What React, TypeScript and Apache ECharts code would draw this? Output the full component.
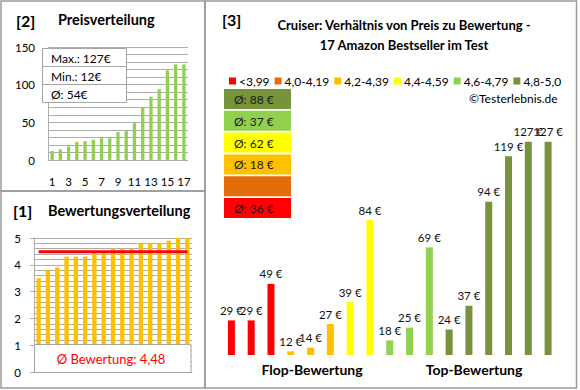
import React, { useEffect, useRef } from "react";
import * as echarts from "echarts";

// ---------- data ----------
const prices = [29, 29, 49, 12, 14, 27, 39, 84, 18, 25, 69, 24, 37, 94, 119, 127, 127];
const ratings = [3.5, 3.8, 3.9, 4.3, 4.3, 4.3, 4.5, 4.5, 4.6, 4.6, 4.6, 4.8, 4.8, 4.8, 4.9, 5.0, 5.0];
const ranks = ["1", "2", "3", "4", "5", "6", "7", "8", "9", "10", "11", "12", "13", "14", "15", "16", "17"];
const groupLabels = ["<3,99", "4,0-4,19", "4,2-4,39", "4,4-4,59", "4,6-4,79", "4,8-5,0"];
const groupLower = [0, 4.0, 4.2, 4.4, 4.6, 4.8];
const groupColors = ["#FF0000", "#E46C0A", "#FFC000", "#FFFF00", "#92D050", "#77933C"];
const sectionLabels = ["Flop-Bewertung", "Top-Bewertung"];

const FONT = "Lato, 'Noto Sans', sans-serif";
const GRID = "#ADADAD";
const FRAME = "#9A9A9A";

function groupOf(r: number) {
  let g = 0;
  groupLower.forEach((lo, i) => {
    if (r >= lo - 1e-9) g = i;
  });
  return g;
}

const sortedPrices = [...prices].sort((a, b) => a - b);
const sortedRatings = [...ratings].sort((a, b) => a - b);
const maxPrice = Math.max(...prices);
const minPrice = Math.min(...prices);
const avgPrice = Math.round(prices.reduce((s, v) => s + v, 0) / prices.length);
const avgRating = ratings.reduce((s, v) => s + v, 0) / ratings.length;
const avgRatingText = avgRating.toFixed(2).replace(".", ",");
const groupAvg = groupLabels.map((_, g) => {
  const vals = prices.filter((_, i) => groupOf(ratings[i]) === g);
  return vals.length ? Math.round(vals.reduce((s, v) => s + v, 0) / vals.length) : null;
});

function txt(text: string, x: number, y: number, size: number, opts: any = {}) {
  const align = opts.align || "left";
  return {
    type: "text",
    x,
    y,
    z: 100,
    style: {
      text,
      fontSize: size,
      fontFamily: FONT,
      fontWeight: opts.weight || "normal",
      fill: opts.color || "#000",
      align,
      textAlign: align,
      verticalAlign: "middle",
      textVerticalAlign: "middle",
    },
  };
}

function buildOption() {
  const graphics: any[] = [];
  // frames
  graphics.push({ type: "rect", z: 1, shape: { x: 1, y: 1, width: 204, height: 190 }, style: { fill: "none", stroke: FRAME, lineWidth: 1.5 } });
  graphics.push({ type: "rect", z: 1, shape: { x: 1, y: 191, width: 204, height: 197 }, style: { fill: "none", stroke: FRAME, lineWidth: 1.5 } });
  graphics.push({ type: "rect", z: 1, shape: { x: 205, y: 1, width: 371.5, height: 387 }, style: { fill: "none", stroke: FRAME, lineWidth: 1.5 } });

  // headings
  graphics.push(txt("[2]", 16, 20, 16, { weight: "bold" }));
  graphics.push(txt("Preisverteilung", 58, 19, 14.5, { weight: "bold" }));
  graphics.push(txt("[1]", 13, 210, 16, { weight: "bold" }));
  graphics.push(txt("Bewertungsverteilung", 48, 210, 14.5, { weight: "bold" }));
  graphics.push(txt("[3]", 222, 19, 16, { weight: "bold" }));
  graphics.push(txt("Cruiser: Verhältnis von Preis zu Bewertung -", 404, 25, 13, { weight: "bold", align: "center" }));
  graphics.push(txt("17 Amazon Bestseller im Test", 404, 45, 13, { weight: "bold", align: "center" }));
  graphics.push(txt("©Testerlebnis.de", 469, 98, 12));

  // info box top-left
  graphics.push({ type: "rect", z: 90, shape: { x: 42.5, y: 48.5, width: 84, height: 54 }, style: { fill: "#fff", stroke: "#A6A6A6", lineWidth: 1 } });
  graphics.push({ type: "line", z: 91, shape: { x1: 42.5, y1: 66.5, x2: 126.5, y2: 66.5 }, style: { stroke: "#A6A6A6", lineWidth: 1 } });
  graphics.push({ type: "line", z: 91, shape: { x1: 42.5, y1: 84.5, x2: 126.5, y2: 84.5 }, style: { stroke: "#A6A6A6", lineWidth: 1 } });
  graphics.push(txt(`Max.: ${maxPrice}€`, 51, 58, 12));
  graphics.push(txt(`Min.: ${minPrice}€`, 51, 76, 12));
  graphics.push(txt(`Ø: ${avgPrice}€`, 51, 94, 12));

  // rating box bottom-left
  graphics.push({ type: "rect", z: 90, shape: { x: 34.5, y: 344.5, width: 156.5, height: 28 }, style: { fill: "#fff", stroke: "#A6A6A6", lineWidth: 1 } });
  graphics.push(txt(`Ø Bewertung: ${avgRatingText}`, 111, 359, 13, { color: "#FF0000", align: "center" }));

  // group average boxes
  const order = [5, 4, 3, 2, 1, 0];
  order.forEach((g, k) => {
    const y = 89 + k * 21.8;
    graphics.push({ type: "rect", z: 90, shape: { x: 224, y, width: 67, height: 20 }, style: { fill: groupColors[g] } });
    if (groupAvg[g] !== null) graphics.push(txt(`Ø: ${groupAvg[g]} €`, 234, y + 10.5, 12, { color: "#1a1a1a" }));
  });

  // section labels
  graphics.push(txt(sectionLabels[0], 312, 369, 14, { weight: "bold", align: "center" }));
  graphics.push(txt(sectionLabels[1], 474, 369, 14, { weight: "bold", align: "center" }));

  const axisLabelStyle = { color: "#000", fontSize: 11.5, fontFamily: FONT };

  const rightSeries = groupLabels.map((name, g) => ({
    type: "bar",
    name,
    xAxisIndex: 2,
    yAxisIndex: 2,
    data: prices.map((p, i) => (groupOf(ratings[i]) === g ? p : "-")),
    barWidth: 7,
    barGap: "-100%",
    itemStyle: { color: groupColors[g] },
    label: {
      show: true,
      position: "top",
      distance: 4,
      formatter: "{c} €",
      color: "#111",
      fontSize: 11.5,
      fontFamily: FONT,
    },
  }));

  return {
    animation: false,
    backgroundColor: "#fff",
    textStyle: { fontFamily: FONT },
    legend: {
      data: groupLabels.map((n) => ({ name: n, icon: "rect" })),
      left: 224,
      top: 70,
      itemWidth: 7,
      itemHeight: 7,
      itemGap: 5,
      selectedMode: false,
      textStyle: { color: "#000", fontSize: 12, fontFamily: FONT, padding: [0, 0, 0, -2] },
    },
    grid: [
      { left: 48, top: 47, width: 140, height: 113 },
      { left: 34, top: 238, width: 158, height: 134 },
      { left: 221.5, top: 118, width: 336.5, height: 237 },
    ],
    xAxis: [
      {
        type: "category",
        gridIndex: 0,
        data: ranks,
        axisLine: { show: true, lineStyle: { color: GRID } },
        axisTick: { show: false },
        axisLabel: { ...axisLabelStyle, interval: 1, margin: 15 },
      },
      {
        type: "category",
        gridIndex: 1,
        data: ranks,
        axisLine: { show: true, lineStyle: { color: GRID } },
        axisTick: { show: false },
        axisLabel: { show: false },
      },
      {
        type: "category",
        gridIndex: 2,
        data: ranks,
        show: false,
      },
    ],
    yAxis: [
      {
        type: "value",
        gridIndex: 0,
        min: 0,
        max: 150,
        interval: 50,
        axisLine: { show: true, lineStyle: { color: GRID } },
        axisTick: { show: false },
        axisLabel: { ...axisLabelStyle, margin: 13 },
        splitLine: { show: true, lineStyle: { color: GRID } },
        minorTick: { show: false, splitNumber: 5 },
        minorSplitLine: { show: true, lineStyle: { color: GRID } },
      },
      {
        type: "value",
        gridIndex: 1,
        min: 0,
        max: 5,
        interval: 1,
        axisLine: { show: true, lineStyle: { color: GRID } },
        axisTick: { show: true, length: 4, lineStyle: { color: GRID } },
        axisLabel: { ...axisLabelStyle, margin: 13 },
        splitLine: { show: true, lineStyle: { color: GRID } },
        minorTick: { show: false, splitNumber: 5 },
        minorSplitLine: { show: true, lineStyle: { color: GRID } },
      },
      {
        type: "value",
        gridIndex: 2,
        min: 10,
        max: 140,
        show: false,
        splitLine: { show: false },
      },
    ],
    series: [
      {
        type: "bar",
        name: "Preis",
        xAxisIndex: 0,
        yAxisIndex: 0,
        data: sortedPrices,
        barWidth: 3.3,
        itemStyle: { color: "#92D050" },
      },
      {
        type: "bar",
        name: "Bewertung",
        xAxisIndex: 1,
        yAxisIndex: 1,
        data: sortedRatings,
        barWidth: 4.3,
        itemStyle: { color: "#FFC000" },
      },
      {
        type: "line",
        name: "Durchschnitt",
        xAxisIndex: 1,
        yAxisIndex: 1,
        data: ranks.map(() => avgRating),
        symbol: "none",
        z: 5,
        lineStyle: { color: "#FF0000", width: 3 },
      },
      ...rightSeries,
    ],
    graphic: graphics,
  };
}

export default function App() {
  const ref = useRef<HTMLDivElement>(null);
  useEffect(() => {
    if (!ref.current) return;
    const chart = echarts.init(ref.current, null, { renderer: "svg", width: 580, height: 390 });
    chart.setOption(buildOption() as any);
    return () => chart.dispose();
  }, []);
  return (
    <div
      ref={ref}
      style={{ position: "fixed", left: 0, top: 0, width: 580, height: 390, background: "#fff" }}
    />
  );
}
